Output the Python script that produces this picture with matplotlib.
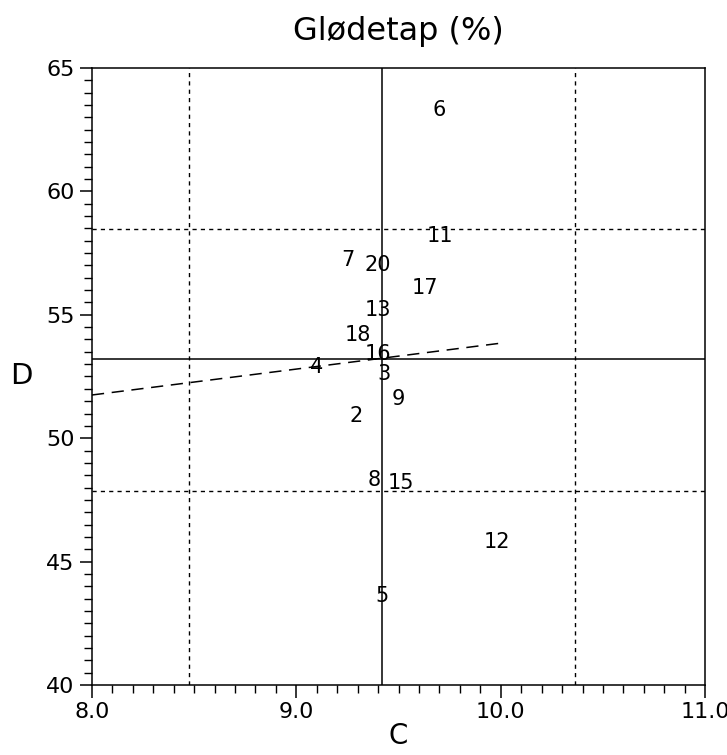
import numpy as np
import matplotlib.pyplot as plt
from matplotlib.ticker import MultipleLocator

# point labels and positions (C, D)
labels = ['6', '11', '7', '20', '17', '13', '18', '16', '4', '3',
          '9', '2', '8', '15', '12', '5']
c_vals = [9.70, 9.70, 9.25, 9.40, 9.63, 9.40, 9.30, 9.40, 9.10, 9.43,
          9.50, 9.29, 9.38, 9.51, 9.98, 9.42]
d_vals = [63.3, 58.2, 57.2, 57.0, 56.1, 55.2, 54.2, 53.4, 52.9, 52.6,
          51.6, 50.9, 48.3, 48.2, 45.8, 43.6]

# mean and limits
c_mean, c_lo, c_hi = 9.42, 8.474, 10.364
d_mean, d_lo, d_hi = 53.22, 47.86, 58.48

# regression line end points
reg_c = [8.0, 10.0]
reg_d = [51.75, 53.85]

plt.rcParams['font.family'] = ['DejaVu Sans']

fig = plt.figure(figsize=(7.27, 7.55), dpi=100)
ax = fig.add_axes([0.1265, 0.0927, 0.8435, 0.8173])

for lab, c, d in zip(labels, c_vals, d_vals):
    ax.text(c, d, lab, ha='center', va='center', fontsize=15)

ax.axvline(c_mean, color='black', lw=1.1)
ax.axhline(d_mean, color='black', lw=1.1)
for v in (c_lo, c_hi):
    ax.axvline(v, color='black', lw=1.0, ls=(0, (3, 3)))
for v in (d_lo, d_hi):
    ax.axhline(v, color='black', lw=1.0, ls=(0, (3, 3)))
ax.plot(reg_c, reg_d, color='black', lw=1.1, ls=(0, (8, 5)))

ax.set_xlim(8.0, 11.0)
ax.set_ylim(40, 65)
ax.set_xticks([8.0, 9.0, 10.0, 11.0])
ax.set_xticklabels(['8.0', '9.0', '10.0', '11.0'])
ax.set_yticks([40, 45, 50, 55, 60, 65])
ax.xaxis.set_minor_locator(MultipleLocator(0.1))
ax.yaxis.set_minor_locator(MultipleLocator(0.5))
ax.tick_params(which='major', direction='out', length=9, width=1.1,
               labelsize=16, colors='black')
ax.tick_params(which='minor', direction='out', length=6, width=1.0)
for s in ax.spines.values():
    s.set_linewidth(1.1)

ax.set_xlabel('C', fontsize=20, labelpad=0)
ax.set_ylabel('D', fontsize=21, rotation=0, labelpad=18, va='center')
ax.set_title('Glødetap (%)', fontsize=23, pad=20)

fig.savefig('out.png', dpi=100)
